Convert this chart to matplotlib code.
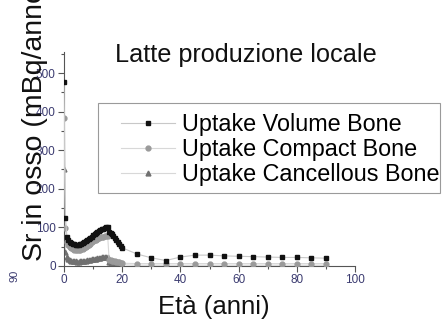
import matplotlib.pyplot as plt
from matplotlib.patches import Rectangle
from matplotlib.ticker import MultipleLocator

plt.rcParams['font.family'] = ['Liberation Sans', 'DejaVu Sans']

# age in years (fine steps in childhood, then every 5 years)
eta = [0, 0.5, 1, 1.5, 2, 2.5, 3, 3.5, 4, 4.5, 5, 5.5, 6, 6.5, 7, 7.5, 8, 8.5,
       9, 9.5, 10, 10.5, 11, 11.5, 12, 12.5, 13, 13.5, 14, 14.5, 15, 15.5, 16,
       16.5, 17, 17.5, 18, 18.5, 19, 19.5, 20,
       25, 30, 35, 40, 45, 50, 55, 60, 65, 70, 75, 80, 85, 90]

# Sr uptake in bone (mBq/anno)
volume_bone = [477, 124, 76, 68, 63, 60, 58, 56, 55, 55, 55, 56, 57, 59, 61, 64,
               67, 70, 73, 76, 79, 82, 85, 88, 91, 93, 95, 97, 99, 100, 101, 88,
               85, 82, 77, 72, 67, 62, 56, 51, 47,
               31, 21, 14, 23, 28, 28, 26, 25, 24, 23, 22, 22, 21, 20]
compact_bone = [383, 98, 62, 54, 49, 46, 44, 42, 41, 41, 41, 42, 43, 45, 47, 49,
                52, 55, 58, 61, 64, 66, 68, 70, 72, 74, 75, 76, 77, 78, 78, 16,
                15, 14, 13, 12, 11, 10, 9, 8, 7,
                6, 6, 6, 6, 6, 6, 6, 6, 6, 6, 6, 6, 6, 6]
cancellous_bone = [250, 36, 22, 18, 16, 14, 13, 12, 12, 11, 11, 12, 12, 13, 13,
                   14, 15, 16, 16, 17, 18, 19, 19, 20, 21, 21, 22, 23, 23, 24, 24,
                   9, 8, 8, 7, 6, 5, 5, 4, 4, 3,
                   2, 2, 2, 2, 2, 2, 2, 2, 2, 2, 2, 2, 2, 2]

tick_color = '#3b3b70'

fig = plt.figure(figsize=(4.43, 3.2), dpi=100)
ax = fig.add_axes([0.1445, 0.169, 0.657, 0.669])

ax.plot(eta, volume_bone, color='#c8c8c8', lw=0.8, marker='s', ms=3,
        mfc='#111111', mec='#111111', label='Uptake Volume Bone', zorder=4)
ax.plot(eta, compact_bone, color='#d8d8d8', lw=0.8, marker='o', ms=3.5,
        mfc='#9a9a9a', mec='#9a9a9a', label='Uptake Compact Bone', zorder=3)
ax.plot(eta, cancellous_bone, color='#d8d8d8', lw=0.8, marker='^', ms=3.5,
        mfc='#707070', mec='#707070', label='Uptake Cancellous Bone', zorder=2)

ax.set_xlim(0, 100)
ax.set_ylim(0, 555)
ax.xaxis.set_major_locator(MultipleLocator(20))
ax.xaxis.set_minor_locator(MultipleLocator(10))
ax.yaxis.set_major_locator(MultipleLocator(100))
ax.yaxis.set_minor_locator(MultipleLocator(50))
ax.tick_params(which='major', length=4, width=0.8, color='#555555',
               labelsize=8.5, labelcolor=tick_color, pad=2)
ax.tick_params(which='minor', length=2.5, width=0.8, color='#555555')

for s in ['top', 'right']:
    ax.spines[s].set_visible(False)
for s in ['left', 'bottom']:
    ax.spines[s].set_color('#555555')
    ax.spines[s].set_linewidth(0.8)

# legend entries without frame, box drawn separately
leg = ax.legend(loc='upper left', bbox_to_anchor=(0.273, 0.647),
                bbox_transform=fig.transFigure, fontsize=16.8, frameon=False,
                handlelength=2.3, handletextpad=0.3, labelspacing=0.08,
                borderpad=0, borderaxespad=0)
fig.patches.append(Rectangle((0.221, 0.397), 0.772, 0.281,
                             transform=fig.transFigure, fill=False,
                             edgecolor='#9a9a9a', lw=0.8))

fig.text(0.555, 0.828, 'Latte produzione locale', fontsize=18.2, ha='center',
         va='center', color='#111111')
fig.text(0.483, 0.04, 'Età (anni)', fontsize=18.5, ha='center', va='center',
         color='#111111')
fig.text(0.08, 0.184, 'Sr in osso (mBq/anno)', fontsize=20.5, rotation=90,
         ha='center', va='bottom', color='#111111')
fig.text(0.032, 0.137, '90', fontsize=8, rotation=90, ha='center',
         va='center', color=tick_color)

fig.savefig('out.png', dpi=100)
